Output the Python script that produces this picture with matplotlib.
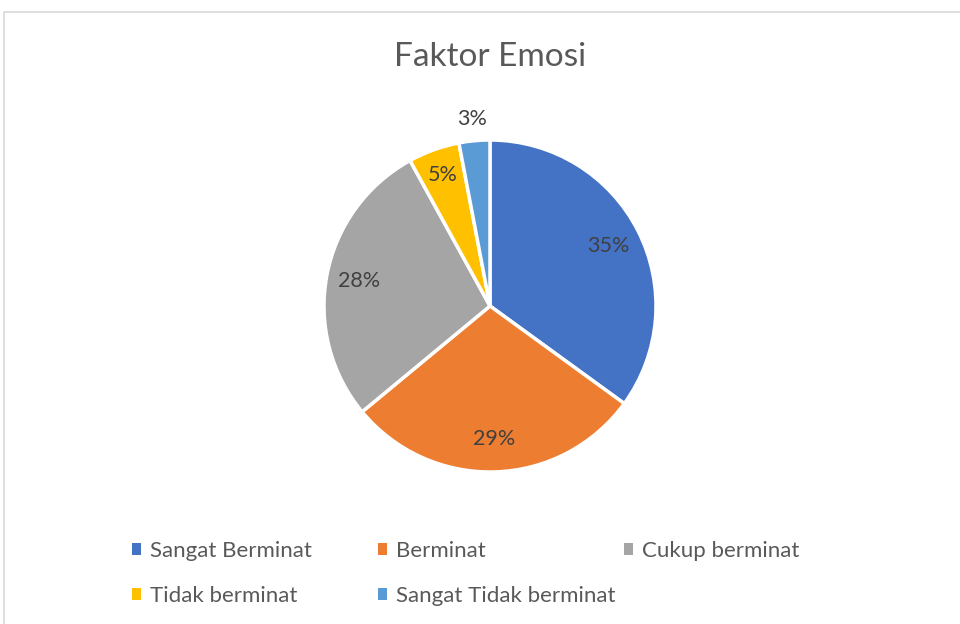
import matplotlib
matplotlib.use("Agg")
import matplotlib.pyplot as plt
from matplotlib.patches import Rectangle
import numpy as np

categories = ["Sangat Berminat", "Berminat", "Cukup berminat", "Tidak berminat", "Sangat Tidak berminat"]
values = [35, 29, 28, 5, 3]
colors = ["#4472C4", "#ED7D31", "#A5A5A5", "#FFC000", "#5B9BD5"]
title = "Faktor Emosi"

plt.rcParams['font.family'] = ['Lato', 'DejaVu Sans']
text_color = "#595959"
label_color = "#404040"

W, H = 960, 624
fig = plt.figure(figsize=(W / 100, H / 100), dpi=100)
fig.patch.set_facecolor("white")

# chart border
fig.patches.append(Rectangle((4 / W, -0.05), 1.1, 1 - 12 / H + 0.05, transform=fig.transFigure,
                             fill=False, edgecolor="#D9D9D9", linewidth=1.2))

cx, cy, r = 490, 306, 166
lim = 1.25
aw = 2 * lim * r
ax = fig.add_axes([(cx - aw / 2) / W, (H - cy - aw / 2) / H, aw / W, aw / H])

wedges, texts, autotexts = ax.pie(values, colors=colors, startangle=90, counterclock=False,
                                  autopct=lambda p: f"{p:.0f}%", pctdistance=0.8,
                                  wedgeprops=dict(edgecolor="white", linewidth=2.5),
                                  textprops=dict(color=label_color, fontsize=15.5))
ax.set_xlim(-lim, lim)
ax.set_ylim(-lim, lim)
ax.set_aspect("equal")

# last small slice label sits outside
w = wedges[-1]
ang = np.deg2rad((w.theta1 + w.theta2) / 2)
autotexts[-1].set_position((1.13 * np.cos(ang), 1.13 * np.sin(ang)))
w = wedges[3]
ang = np.deg2rad((w.theta1 + w.theta2) / 2)
autotexts[3].set_position((0.84 * np.cos(ang), 0.84 * np.sin(ang)))

fig.text(cx / W, 1 - 57 / H, title, ha="center", va="center", fontsize=24, color=text_color)

# legend laid out in 3 columns, row-major like the original
col_x = [132, 378, 624]
cols = [[0, 3], [1, 4], [2]]
for x, idx in zip(col_x, cols):
    leg = fig.legend([wedges[i] for i in idx], [categories[i] for i in idx],
                     loc="upper left", bbox_to_anchor=(x / W, 1 - 541 / H),
                     frameon=False, fontsize=16, handlelength=0.42, handleheight=0.42,
                     handletextpad=0.4, labelspacing=1.12, borderaxespad=0, borderpad=0)
    for t in leg.get_texts():
        t.set_color(text_color)
    for h in leg.legend_handles:
        h.set_edgecolor("none")

fig.savefig("out.png", dpi=100)
